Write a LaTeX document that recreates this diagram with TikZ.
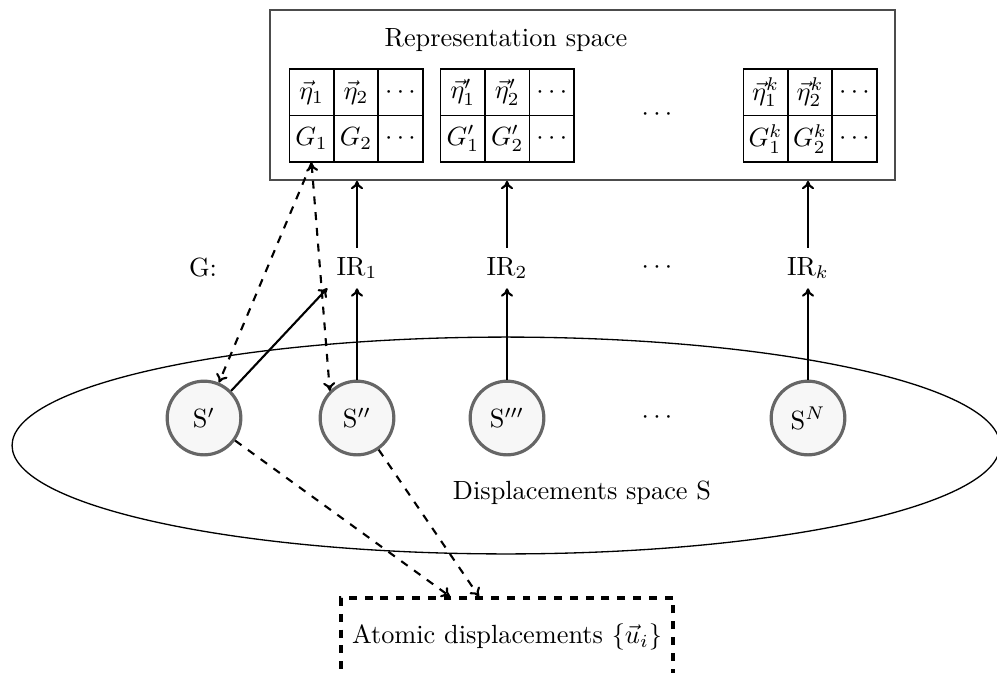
\documentclass[tikz,border=0pt]{standalone}
\usetikzlibrary{matrix,calc,arrows.meta}
\begin{document}
\begin{tikzpicture}[x=0.38pt,y=-0.38pt,
  tbl/.style={matrix of math nodes, inner sep=0pt,
    nodes={draw, line width=0.6pt, minimum width=16.9pt, minimum height=17.7pt, inner sep=0.5pt, anchor=center},
    column sep=-0.6pt, row sep=-0.6pt},
  sbox/.style={circle, draw=black!60, very thick, fill=black!3, minimum size=28pt, inner sep=0pt},
  arr/.style={thick,->,>={Computer Modern Rightarrow[length=3.2pt,width=4.6pt]}},
  darr/.style={arr,dashed}]
\useasboundingbox (0,0) rectangle (997,672);

% displacement space
\draw[line width=0.5pt] (506,445.5) ellipse [x radius=187.7pt, y radius=41.2pt];
\node (dispspace) at (582,493) {Displacements space S};

% representation space
\node[draw=black!70, line width=0.6pt, minimum width=237.5pt, minimum height=64.6pt, inner sep=0pt] (rep) at (582.5,95) {};
\node (reptitle) at (506,40) {Representation space};

\matrix[tbl] (T1) at (356,115.5) {
  \vec\eta_1 & \vec\eta_2 & \cdots \\
  G_1 & G_2 & \cdots \\
};
\matrix[tbl] (T2) at (507.3,115.5) {
  \vec\eta'_1 & \vec\eta'_2 & \cdots \\
  G'_1 & G'_2 & \cdots \\
};
\matrix[tbl] (T3) at (810,115.5) {
  \vec\eta^k_1 & \vec\eta^k_2 & \cdots \\
  G^k_1 & G^k_2 & \cdots \\
};
\node (dtop) at (657,115) {$\cdots$};

% irreducible representations
\node (G) at (203,268) {G:};
\node (IR1) at (357,268) {$\mathrm{IR}_1$};
\node (IR2) at (507,268) {$\mathrm{IR}_2$};
\node (dIR) at (657,268) {$\cdots$};
\node (IRk) at (808,268) {$\mathrm{IR}_k$};

% subspaces
\node[sbox] (S1) at (204,418) {$\mathrm{S}'$};
\node[sbox] (S2) at (357,418) {$\mathrm{S}''$};
\node[sbox] (S3) at (507,418) {$\mathrm{S}'''$};
\node (dS) at (657,418) {$\cdots$};
\node[sbox] (SN) at (808,418) {$\mathrm{S}^N$};

% atomic displacements
\node[draw, very thick, dashed, minimum width=126.2pt, minimum height=29.6pt] (atomic) at (507,637) {Atomic displacements $\{\vec u_i\}$};
\coordinate (a1) at ($(atomic.north)+(-57,0)$);
\coordinate (a2) at ($(atomic.north)+(-28,0)$);

% connectors
\draw[arr] (IR1) -- (IR1 |- rep.south);
\draw[arr] (IR2) -- (IR2 |- rep.south);
\draw[arr] (IRk) -- (IRk |- rep.south);
\draw[arr] (S2) -- (IR1);
\draw[arr] (S3) -- (IR2);
\draw[arr] (SN) -- (IRk);
\draw[arr] (S1.north east) -- (IR1.south west);
\draw[darr] (T1-2-1.south) -- (S1);
\draw[darr,<->] (T1-2-1.south) -- (S2.north west);
\draw[darr] (S1) -- (a1);
\draw[darr] (S2) -- (a2);
\end{tikzpicture}
\end{document}
